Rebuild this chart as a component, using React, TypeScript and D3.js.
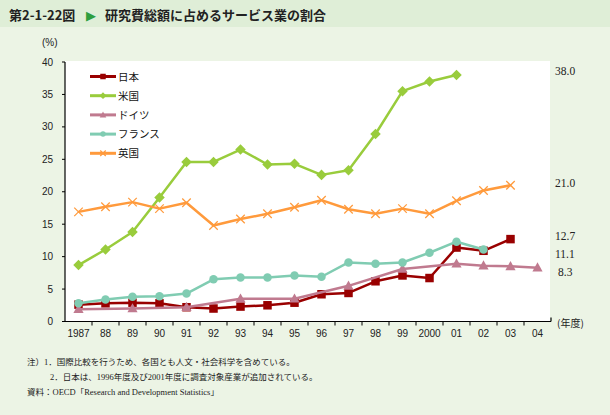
import React from "react";
import * as d3 from "d3";

const years = ["1987","88","89","90","91","92","93","94","95","96","97","98","99","2000","01","02","03","04"];
const japan: (number | null)[] = [2.6,2.8,2.9,2.8,2.2,2.0,2.3,2.5,2.9,4.2,4.4,6.2,7.1,6.7,11.4,10.9,12.7,null];
const us: (number | null)[] = [8.7,11.1,13.8,19.1,24.6,24.6,26.5,24.2,24.3,22.6,23.3,28.9,35.5,37.0,38.0,null,null,null];
const germany: (number | null)[] = [1.9,null,2.0,null,2.2,null,3.5,null,3.5,null,5.5,null,8.1,null,8.9,8.6,8.5,8.3];
const france: (number | null)[] = [2.8,3.4,3.8,3.9,4.3,6.5,6.8,6.8,7.1,6.9,9.1,8.9,9.1,10.6,12.3,11.1,null,null];
const uk: (number | null)[] = [16.9,17.7,18.4,17.4,18.3,14.8,15.8,16.6,17.6,18.7,17.3,16.6,17.4,16.6,18.6,20.2,21.0,null];
const yTicks = [0,5,10,15,20,25,30,35,40];
const endLabels = [
  { text: "38.0", v: 38.0 },
  { text: "21.0", v: 21.0 },
  { text: "12.7", v: 12.7 },
  { text: "11.1", v: 11.1 },
  { text: "8.3", v: 8.3 },
];
const endLabelY = [75, 187, 240, 258, 276];

type Series = { name: string; values: (number | null)[]; color: string; marker: string };
const series: Series[] = [
  { name: "日本", values: japan, color: "#990000", marker: "square" },
  { name: "米国", values: us, color: "#99CC3C", marker: "diamond" },
  { name: "ドイツ", values: germany, color: "#C07A8F", marker: "triangle" },
  { name: "フランス", values: france, color: "#80CCB2", marker: "circle" },
  { name: "英国", values: uk, color: "#FF9A3C", marker: "x" },
];

const W = 610, H = 415;
const left = 65, right = 551, top = 62, bottom = 321.5;

function Marker({ type, x, y, color, s }: { type: string; x: number; y: number; color: string; s: number }) {
  if (type === "square") return <rect x={x - s / 2} y={y - s / 2} width={s} height={s} fill={color} />;
  if (type === "diamond") {
    const r = s * 0.62;
    return <path d={`M${x},${y - r}L${x + r},${y}L${x},${y + r}L${x - r},${y}Z`} fill={color} />;
  }
  if (type === "triangle") {
    const r = s * 0.6;
    return <path d={`M${x},${y - r * 1.05}L${x + r},${y + r * 0.75}L${x - r},${y + r * 0.75}Z`} fill={color} />;
  }
  if (type === "circle") return <circle cx={x} cy={y} r={s / 2} fill={color} />;
  const r = s / 2;
  return (
    <g stroke={color} strokeWidth={1.3}>
      <line x1={x - r} y1={y - r} x2={x + r} y2={y + r} />
      <line x1={x - r} y1={y + r} x2={x + r} y2={y - r} />
    </g>
  );
}

export default function App() {
  const x = d3.scaleBand<string>().domain(years).range([left, right]);
  const y = d3.scaleLinear().domain([0, 40]).range([bottom, top]);
  const cx = (yr: string) => (x(yr) as number) + x.bandwidth() / 2;
  const line = d3
    .line<{ yr: string; v: number }>()
    .x((d) => cx(d.yr))
    .y((d) => y(d.v));

  return (
    <svg width={W} height={H} style={{ position: "absolute", left: 0, top: 0 }} fontFamily="Arial, 'Liberation Sans', 'Noto Sans CJK JP', sans-serif">
      <rect x={0} y={0} width={W} height={H} fill="#ECF4E5" />
      <rect x={0} y={0} width={W} height={27} fill="#DFEED7" />
      <text x={9} y={20} fontSize={13} fontWeight="bold" fill="#222" fontFamily="'Noto Sans CJK JP', sans-serif">第2-1-22図</text>
      <text x={86} y={20} fontSize={13} fill="#2E9E3E" fontFamily="'DejaVu Sans', sans-serif">▶</text>
      <text x={105} y={20} fontSize={13} fontWeight="bold" fill="#222" fontFamily="'Noto Sans CJK JP', sans-serif">研究費総額に占めるサービス業の割合</text>

      <rect x={left} y={61} width={right - left - 1} height={bottom - 61} fill="#ffffff" />

      {/* axes */}
      <line x1={left} y1={top} x2={left} y2={bottom} stroke="#000" strokeWidth={1.2} />
      <line x1={left} y1={bottom} x2={right} y2={bottom} stroke="#000" strokeWidth={1.2} />
      <line x1={right} y1={bottom} x2={right} y2={bottom - 4} stroke="#000" strokeWidth={1.2} />
      {yTicks.map((t) => (
        <g key={t}>
          <line x1={left - 3} x2={left} y1={y(t)} y2={y(t)} stroke="#000" />
          <text x={53} y={y(t) + 3.5} fontSize={10} textAnchor="end" fill="#222">{t}</text>
        </g>
      ))}
      {years.map((yr, i) => (
        <g key={yr}>
          {i > 0 && <line x1={x(yr)} x2={x(yr)} y1={bottom} y2={bottom + 4} stroke="#000" />}
          <text x={cx(yr)} y={337} fontSize={10} textAnchor="middle" fill="#222">{yr}</text>
        </g>
      ))}
      <text x={42} y={46} fontSize={10} fill="#222">(%)</text>
      <text x={557} y={327} fontSize={10} fill="#222" fontFamily="'Noto Sans CJK JP', sans-serif">(年度)</text>

      {/* series */}
      {series.map((s) => {
        const pts = s.values
          .map((v, i) => ({ yr: years[i], v }))
          .filter((d) => d.v !== null) as { yr: string; v: number }[];
        return (
          <g key={s.name}>
            <path d={line(pts) as string} fill="none" stroke={s.color} strokeWidth={2.5} strokeLinejoin="round" />
            {pts.map((d) => (
              <Marker key={d.yr} type={s.marker} x={cx(d.yr)} y={y(d.v)} color={s.color} s={8.5} />
            ))}
          </g>
        );
      })}

      {/* legend */}
      {series.map((s, i) => {
        const ly = 76.5 + i * 19.2;
        return (
          <g key={s.name}>
            <line x1={90} x2={116} y1={ly} y2={ly} stroke={s.color} strokeWidth={3} />
            <Marker type={s.marker} x={103} y={ly} color={s.color} s={5.5} />
            <text x={118} y={ly + 4} fontSize={10.5} fill="#111" fontFamily="'Noto Sans CJK JP', sans-serif">{s.name}</text>
          </g>
        );
      })}

      {/* end labels */}
      {endLabels.map((l, i) => (
        <text key={l.text} x={l.text.length === 3 ? 558 : 555} y={endLabelY[i]} fontSize={11.5} fill="#222" fontFamily="'Liberation Serif', 'Times New Roman', serif">{l.text}</text>
      ))}

      {/* notes */}
      <g fontSize={8.5} fill="#222" fontFamily="'Liberation Serif', 'Noto Sans CJK JP', serif">
        <text x={27} y={365}>注）1．国際比較を行うため、各国とも人文・社会科学を含めている。</text>
        <text x={50} y={380}>2．日本は、1996年度及び2001年度に調査対象産業が追加されている。</text>
        <text x={27} y={395}>資料：OECD「Research and Development Statistics」</text>
      </g>
    </svg>
  );
}
